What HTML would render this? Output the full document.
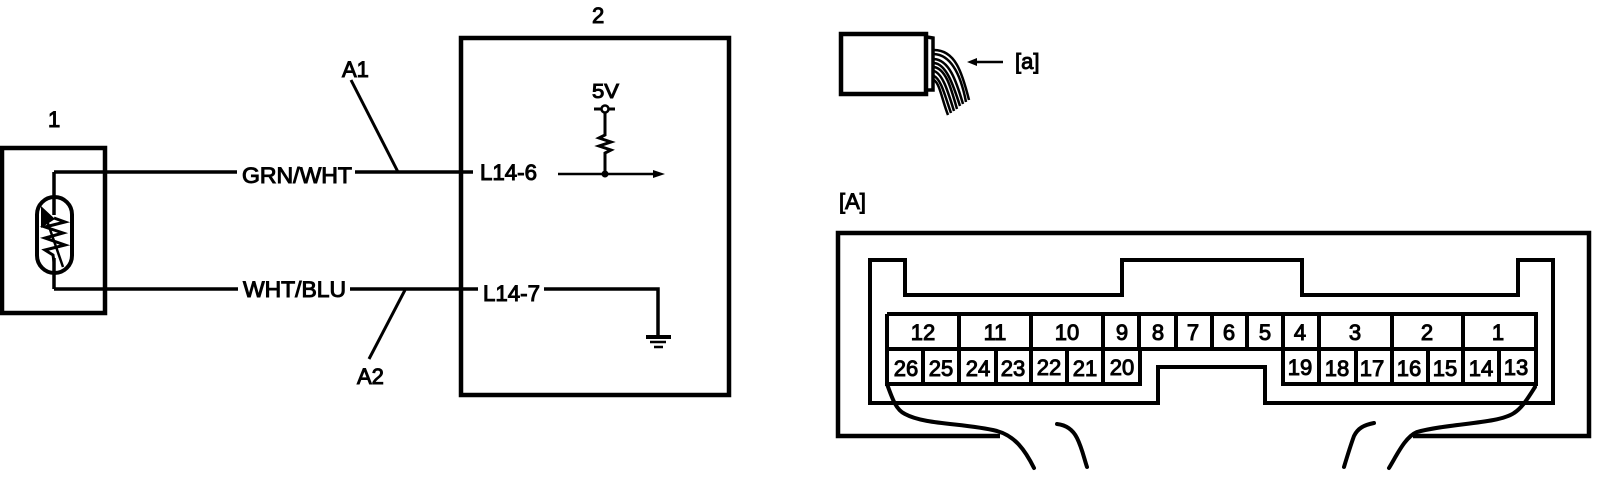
<!DOCTYPE html>
<html>
<head>
<meta charset="utf-8">
<style>
html,body{margin:0;padding:0;background:#fff;width:1600px;height:492px;overflow:hidden}
svg{display:block}
text{font-family:"Liberation Sans",sans-serif;font-size:22px;fill:#000;stroke:#000;stroke-width:1}
.n text{text-anchor:middle}
</style>
</head>
<body>
<svg width="1600" height="492" viewBox="0 0 1600 492" xmlns="http://www.w3.org/2000/svg">
<rect width="1600" height="492" fill="#fff"/>
<g fill="none" stroke="#000" stroke-linejoin="miter">
  <!-- sensor box -->
  <rect x="2" y="148" width="103" height="165" stroke-width="4.5"/>
  <path d="M54,172V215M54,258V289" stroke-width="3.5"/>
  <path d="M54,172H237M355,172H473" stroke-width="3.5"/>
  <path d="M54,289H238M350,289H478M544,289H658V337" stroke-width="3.5"/>
  <rect x="37" y="197" width="35" height="76" rx="17.5" stroke-width="4"/>
  <path d="M54,218L65,222L45,227L63,233L45,238L65,245L45,250L53,255L54,262" stroke-width="3"/>
  <path d="M44,212L63,267" stroke-width="2.5"/>
  <!-- ECU box -->
  <rect x="461" y="38" width="268" height="357" stroke-width="4.5"/>
  <path d="M351,80L398,172" stroke-width="3"/>
  <path d="M405,290L369,359" stroke-width="3"/>
  <!-- 5V -->
  <path d="M594,109H601M609,109H615M605,113V135L599,138L611,142L599,146L611,150L605,153V174" stroke-width="3"/>
  <circle cx="605" cy="109" r="3.5" stroke-width="2.5" fill="#fff"/>
  <path d="M558,174H655" stroke-width="2.5"/>
  <!-- ground -->
  <path d="M646,337H671" stroke-width="4"/>
  <path d="M650,342H666" stroke-width="2.5"/>
  <path d="M654,347H663" stroke-width="2.5"/>
  <!-- connector pictogram -->
  <rect x="841" y="34" width="85" height="60" stroke-width="4.5"/>
  <path d="M927,37L933,38V90H927" stroke-width="3.5"/>
  <g stroke-width="2.5">
    <path d="M934,50C955,50 962,72 969,100"/>
    <path d="M934,54C952,55 961,76 966,102"/>
    <path d="M934,59C949,60 956,80 963,104"/>
    <path d="M934,63C946,64 953,84 960,106"/>
    <path d="M934,67C946,69 951,88 957,109"/>
    <path d="M934,71C943,74 948,92 954,111"/>
    <path d="M934,76C941,79 945,96 951,113"/>
    <path d="M934,80C940,84 942,100 948,115"/>
  </g>
  <path d="M975,62H1003" stroke-width="2.5"/>
  <!-- connector outer -->
  <path d="M1000,436H838V233H1589V436H1413" stroke-width="4.5"/>
  <!-- connector inner -->
  <path d="M870,260H905V295H1122V260H1302V295H1518V260H1553V403H1265V367H1158V403H870Z" stroke-width="4"/>
  <!-- terminal grid -->
  <path d="M887,314H1536V384H1283V349M887,314V384H1140V349M887,349H1536" stroke-width="4" fill="#fff"/>
  <path d="M959,314V384M1031,314V384M1103,314V384M1139,314V349M1176,314V349M1212,314V349M1247,314V349M1283,314V349M1319,314V384M1392,314V384M1463,314V384" stroke-width="4"/>
  <path d="M923,349V384M996,349V384M1067,349V384M1356,349V384M1428,349V384M1499,349V384" stroke-width="4"/>
  <!-- wires -->
  <g stroke-width="4" stroke-linecap="round">
    <path d="M887,384C892,398 896,410 905,414C925,425 965,423 997,431C1015,436 1025,450 1034,468"/>
    <path d="M1057,424C1066,425 1073,430 1077,438C1082,448 1084,458 1087,467"/>
    <path d="M1535,387C1528,398 1522,408 1514,413C1498,424 1450,423 1417,432C1405,437 1397,455 1389,468"/>
    <path d="M1374,423C1364,425 1358,428 1354,436C1350,447 1347,457 1344,467"/>
  </g>
</g>
<g fill="#000">
  <path d="M41,206L41,228L55,219Z"/>
  <circle cx="605" cy="174" r="3.5"/>
  <path d="M653,170L665,174L653,178Z"/>
  <path d="M967,62L977,58V66Z"/>
</g>
<text x="48" y="127">1</text>
<text x="592" y="23">2</text>
<text x="342" y="77">A1</text>
<text x="357" y="384">A2</text>
<text x="242" y="183" textLength="110" lengthAdjust="spacingAndGlyphs">GRN/WHT</text>
<text x="243" y="297" textLength="103" lengthAdjust="spacingAndGlyphs">WHT/BLU</text>
<text x="480" y="180" textLength="57" lengthAdjust="spacingAndGlyphs">L14-6</text>
<text x="483" y="301" textLength="57" lengthAdjust="spacingAndGlyphs">L14-7</text>
<text x="592" y="98" textLength="27" lengthAdjust="spacingAndGlyphs" style="font-size:20px">5V</text>
<text x="1015" y="69">[a]</text>
<text x="839" y="209">[A]</text>
<g class="n">
  <text x="923" y="340">12</text><text x="995" y="340">11</text><text x="1067" y="340">10</text>
  <text x="1122" y="340">9</text><text x="1158" y="340">8</text><text x="1193" y="340">7</text>
  <text x="1229" y="340">6</text><text x="1265" y="340">5</text><text x="1300" y="340">4</text>
  <text x="1355" y="340">3</text><text x="1427" y="340">2</text><text x="1498" y="340">1</text>
  <text x="906" y="376">26</text><text x="941" y="376">25</text><text x="978" y="376">24</text>
  <text x="1013" y="376">23</text><text x="1049" y="375">22</text><text x="1085" y="376">21</text>
  <text x="1122" y="375">20</text><text x="1300" y="375">19</text><text x="1337" y="376">18</text>
  <text x="1372" y="376">17</text><text x="1409" y="376">16</text><text x="1445" y="376">15</text>
  <text x="1481" y="376">14</text><text x="1516" y="375">13</text>
</g>
</svg>
</body>
</html>
